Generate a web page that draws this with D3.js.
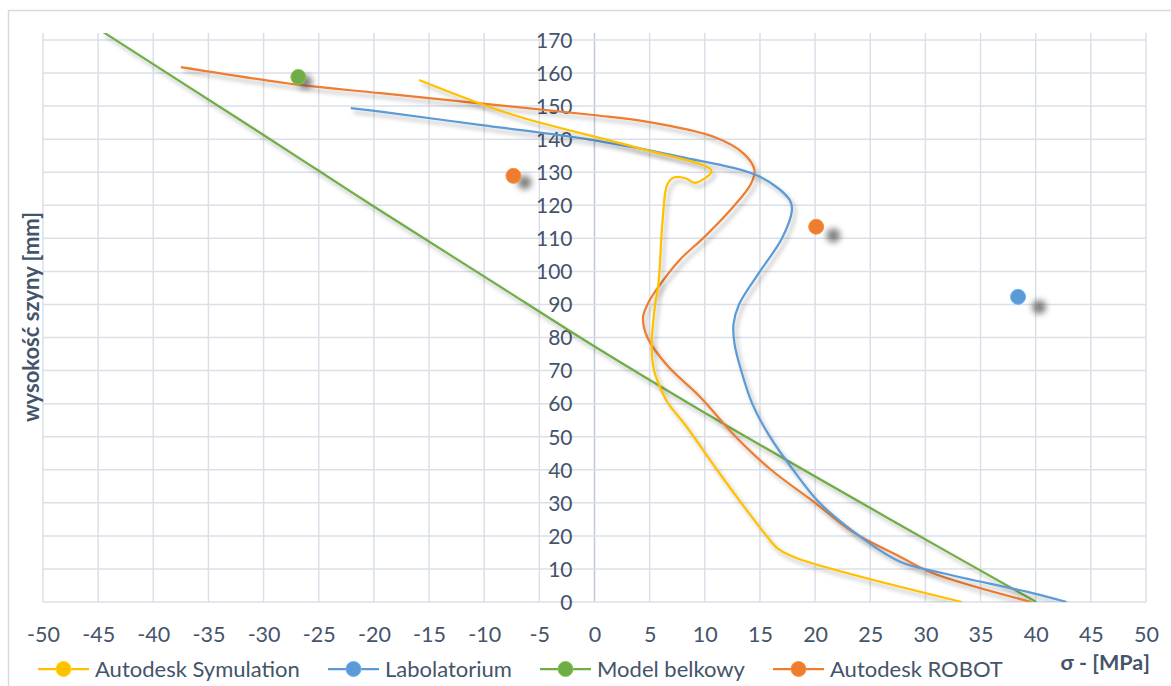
<!DOCTYPE html>
<html><head><meta charset="utf-8">
<script src="https://cdnjs.cloudflare.com/ajax/libs/d3/7.8.5/d3.min.js"></script>
<style>
html,body{margin:0;padding:0;background:#fff;}
svg{display:block;font-family:Lato,"Liberation Sans",sans-serif;}
</style></head>
<body><svg id="c" width="1171" height="686"></svg>
<script>
// ---- data ----
const seriesNames = ["Autodesk Symulation","Labolatorium","Model belkowy","Autodesk ROBOT"];
const seriesColors = ["#FFC000","#5B9BD5","#70AD47","#ED7D31"];

const symSigma  = [33.3, 18.3, 16.6, 15.6, 13.3, 11.1, 8.35, 6.6, 5.93, 5.4, 5.18, 5.5, 5.8, 6.2, 6.6, 7.2, 8.3, 9.1, 10.6, 4.1, -7.35, -15.9];
const symHeight = [0, 13.3, 16.2, 20, 30, 40, 53, 60.5, 65.1, 70, 77.2, 90, 96.4, 116.5, 126.3, 128.4, 128.1, 126.8, 130.4, 137.2, 147.3, 157.9];

const labSigma  = [42.8, 39.7, 31.6, 27.7, 24, 20.4, 18, 15.9, 14.3, 13.3, 12.7, 12.6, 13.1, 15.0, 17.0, 17.9, 17.7, 15, 7.7, -0.1, -10.4, -19.4, -22.1];
const labHeight = [0, 2.7, 8.7, 12.2, 20, 30, 40, 50, 60, 70, 78, 84, 90, 100, 110, 118.6, 121.6, 128.6, 134.7, 139.7, 144.3, 148.3, 149.4];

const belSigma  = [40.05, 27.7, 9.56, 0.05, -8.56, -13.1, -19.9, -24.9, -31.2, -44.6];
const belHeight = [0, 23.3, 58.1, 77.2, 95.4, 105, 119.4, 130.2, 143.8, 172.5];

const robSigma  = [39.6, 30.7, 27.7, 23.5, 20, 16, 12.8, 9.56, 6.6, 4.8, 4.4, 4.8, 5.6, 7.7, 10.0, 12.6, 14.2, 14.5, 13.5, 10.8, 4.7, -0.1, -10.4, -19.4, -26.7, -37.5];
const robHeight = [0, 8.7, 13.7, 21, 30, 40, 50, 62.1, 71.5, 80, 86, 90, 94.4, 103.4, 110.5, 119.6, 126.6, 130.7, 135.7, 140.7, 145.3, 147.3, 150.8, 153.9, 156.4, 161.8];

const dotSigma  = [-26.85, -7.35, 20.1, 38.4];
const dotHeight = [158.8, 128.9, 113.5, 92.3];
const dotSeries = [2, 3, 3, 1];

const xTicks = d3.range(-50, 51, 5);
const yTicks = d3.range(0, 171, 10);
const xTitle = "σ - [MPa]";
const yTitle = "wysokość szyny [mm]";

// ---- layout ----
const svg = d3.select("#c");
const textColor = "#44546A";
const gridColor = "#DADFE8";
const x = d3.scaleLinear().domain([-50, 50]).range([43, 1146]);
const y = d3.scaleLinear().domain([0, 172.1]).range([602, 33]);
const fmt = d => String(d);

const defs = svg.append("defs");
defs.append("clipPath").attr("id","plot").append("rect")
  .attr("x", x(-50)).attr("y", y(172.1)).attr("width", x(50)-x(-50)).attr("height", y(0)-y(172.1));
const fl = defs.append("filter").attr("id","lsh").attr("x","-10%").attr("y","-10%").attr("width","130%").attr("height","130%");
fl.append("feDropShadow").attr("dx",3).attr("dy",4).attr("stdDeviation",2.2)
  .attr("flood-color","#000").attr("flood-opacity",0.28);
const fb = defs.append("filter").attr("id","blur").attr("x","-100%").attr("y","-100%").attr("width","300%").attr("height","300%");
fb.append("feGaussianBlur").attr("stdDeviation",3);

// chart border
svg.append("rect").attr("x",8.5).attr("y",10.5).attr("width",1200).attr("height",700)
  .attr("fill","#fff").attr("stroke","#D9D9D9").attr("stroke-width",1.5);

// gridlines
const g = svg.append("g");
g.selectAll("line.vg").data(xTicks).join("line")
  .attr("x1", d=>x(d)).attr("x2", d=>x(d)).attr("y1", y(172.1)).attr("y2", y(0))
  .attr("stroke", d=> d===0 ? "#BFC8D6" : gridColor).attr("stroke-width", 1.5);
g.selectAll("line.hg").data(yTicks).join("line")
  .attr("x1", x(-50)).attr("x2", x(50)).attr("y1", d=>y(d)).attr("y2", d=>y(d))
  .attr("stroke", gridColor).attr("stroke-width", 1.5);

// axes labels via d3 axes
const ax = svg.append("g").attr("transform", `translate(0,${y(0)+32})`)
  .call(d3.axisBottom(x).tickValues(xTicks).tickSize(0).tickPadding(0).tickFormat(fmt));
ax.select(".domain").remove();
ax.selectAll("text").attr("fill", textColor).style("font-size","21.5px").style("font-family","Lato,'Liberation Sans',sans-serif")
  .attr("dy","0.35em").attr("y",0);

const ay = svg.append("g").attr("transform", `translate(${x(0)-22},0)`)
  .call(d3.axisLeft(y).tickValues(yTicks).tickSize(0).tickPadding(0).tickFormat(fmt));
ay.select(".domain").remove();
ay.selectAll("text").attr("fill", textColor).style("font-size","21px").style("font-family","Lato,'Liberation Sans',sans-serif")
  .attr("dy","0.35em").attr("x",0);

// axis titles
svg.append("text").attr("x", 1150).attr("y", 662).attr("text-anchor","end").attr("dy","0.35em")
  .attr("fill", textColor).style("font-size","21.5px").style("font-weight","bold").text(xTitle);
svg.append("text").attr("transform",`translate(31,317) rotate(-90)`).attr("text-anchor","middle").attr("dy","0.35em")
  .attr("fill", textColor).style("font-size","22px").style("font-weight","bold").text(yTitle);

// series lines
const series = [
  [symSigma, symHeight],
  [labSigma, labHeight],
  [belSigma, belHeight],
  [robSigma, robHeight]
];
const line = d3.line().x(d=>x(d[0])).y(d=>y(d[1])).curve(d3.curveCatmullRom.alpha(0.5));
const plot = svg.append("g").attr("clip-path","url(#plot)");
const drawOrder = [2, 3, 1, 0];
drawOrder.forEach(i => {
  const pts = series[i][0].map((s,k)=>[s, series[i][1][k]]);
  plot.append("path").datum(pts).attr("d", line)
    .attr("fill","none").attr("stroke", seriesColors[i]).attr("stroke-width", 2.25)
    .attr("stroke-linejoin","round").attr("filter","url(#lsh)");
});

// single markers with shadows
const dots = dotSigma.map((s,k)=>({s, h: dotHeight[k], c: seriesColors[dotSeries[k]]}));
svg.append("g").selectAll("circle").data(dots).join("circle")
  .attr("cx", d=> x(d.s) + 1.2 + 0.0195*x(d.s)).attr("cy", d=> y(d.h) + 3 + 0.007*x(d.s))
  .attr("r", 7).attr("fill","#555").attr("opacity",0.75).attr("filter","url(#blur)");
svg.append("g").selectAll("circle").data(dots).join("circle")
  .attr("cx", d=>x(d.s)).attr("cy", d=>y(d.h)).attr("r", 7.5)
  .attr("fill", d=>d.c).attr("stroke", d=>d3.color(d.c).brighter(0.4)).attr("stroke-width",1);

// legend
const legX = [38, 328, 540, 773];
const legY = 669;
const lg = svg.append("g");
seriesNames.forEach((n,i) => {
  const x0 = legX[i];
  lg.append("line").attr("x1", x0).attr("x2", x0+51).attr("y1", legY).attr("y2", legY)
    .attr("stroke", seriesColors[i]).attr("stroke-width", 2.25);
  lg.append("circle").attr("cx", x0+25.5).attr("cy", legY).attr("r", 7.5)
    .attr("fill", seriesColors[i]).attr("stroke", d3.color(seriesColors[i]).brighter(0.4)).attr("stroke-width",1);
  lg.append("text").attr("x", x0+57).attr("y", legY).attr("dy","0.35em")
    .attr("fill", textColor).style("font-size","22px").text(n);
});
</script>
</body></html>
